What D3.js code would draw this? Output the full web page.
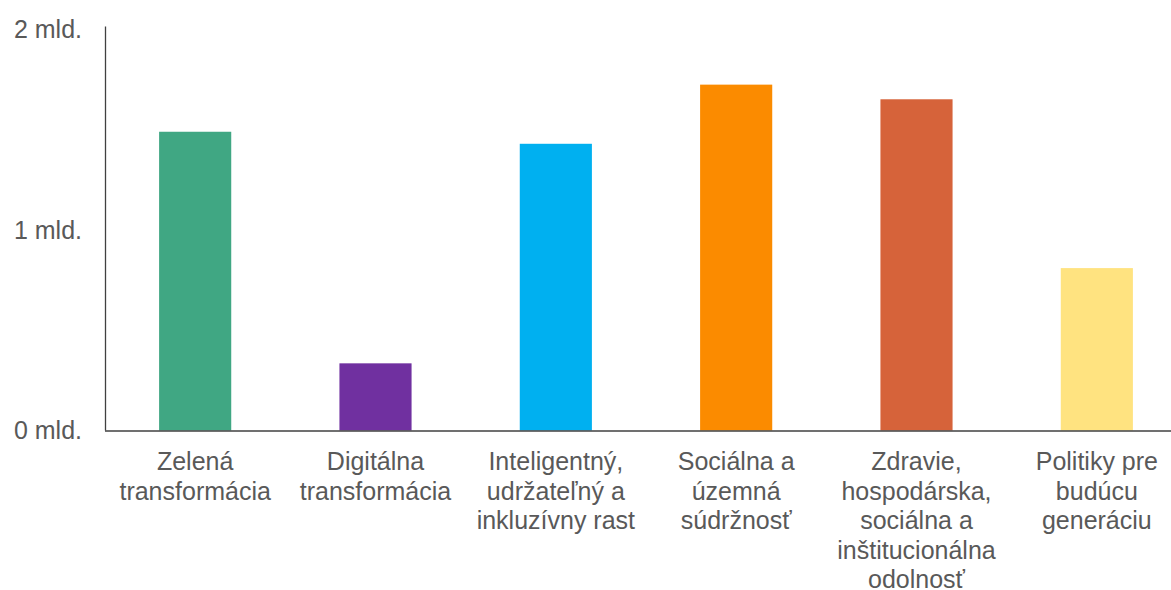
<!DOCTYPE html>
<html>
<head>
<meta charset="utf-8">
<script src="https://cdn.jsdelivr.net/npm/d3@7"></script>
<style>
    body { margin: 0; background: #fff; }
    svg { display: block; font-family: "Liberation Sans", Arial, sans-serif; }
    .axis text { fill: #595959; font-size: 25px; }
    .axis path { stroke: #404040; stroke-width: 1.3px; }
</style>
</head>
<body>
<div id="chart"></div>
<script>
// data
const categories = ["zelena", "digitalna", "inteligentny", "socialna", "zdravie", "politiky"];
const categoryLabels = [
    ["Zelená", "transformácia"],
    ["Digitálna", "transformácia"],
    ["Inteligentný,", "udržateľný a", "inkluzívny rast"],
    ["Sociálna a", "územná", "súdržnosť"],
    ["Zdravie,", "hospodárska,", "sociálna a", "inštitucionálna", "odolnosť"],
    ["Politiky pre", "budúcu", "generáciu"]
];
const values = [1.49, 0.335, 1.43, 1.725, 1.652, 0.81]; // mld.
const yTicks = [0, 1, 2];
const yTickLabels = ["0 mld.", "1 mld.", "2 mld."];

const colors = ["#40a783", "#7030a0", "#00b0f0", "#fb8b00", "#d6633a", "#ffe380"];

const width = 1171, height = 590;
const margin = {left: 105, top: 29.5, bottom: 159.5};

let svg = d3.select("#chart").append("svg")
    .attr("width", width)
    .attr("height", height);

let x = d3.scaleBand()
    .domain(categories)
    .range([margin.left, 1187])
    .paddingInner(0.6)
    .paddingOuter(0.3);

let y = d3.scaleLinear()
    .domain([0, 2])
    .range([height - margin.bottom, margin.top]);

// bars
svg.selectAll(".bar")
    .data(values)
    .enter().append("rect")
    .attr("class", "bar")
    .attr("x", (d, i) => x(categories[i]))
    .attr("y", d => y(d))
    .attr("width", x.bandwidth())
    .attr("height", d => y(0) - y(d))
    .attr("fill", (d, i) => colors[i]);

// y axis
let yAxis = d3.axisLeft(y)
    .tickValues(yTicks)
    .tickSize(0)
    .tickPadding(23)
    .tickFormat((d, i) => yTickLabels[i]);

svg.append("g")
    .attr("class", "axis y-axis")
    .attr("transform", `translate(${margin.left},0)`)
    .call(yAxis)
    .call(g => g.select(".domain").attr("d", `M0.5,${y(0)}V${y(2) - 3}`));

// x axis
let xAxis = d3.axisBottom(x)
    .tickSize(0)
    .tickFormat("");

let xg = svg.append("g")
    .attr("class", "axis x-axis")
    .attr("transform", `translate(0,${y(0)})`)
    .call(xAxis);

xg.select(".domain").attr("d", `M${margin.left},0.5H${width}`);

xg.selectAll(".tick text")
    .attr("y", 0)
    .attr("dy", null)
    .each(function(d, i) {
        let t = d3.select(this);
        categoryLabels[i].forEach((line, j) => {
            t.append("tspan")
                .attr("x", 0)
                .attr("y", 39.5 + j * 29.5)
                .text(line);
        });
    });
</script>
</body>
</html>
